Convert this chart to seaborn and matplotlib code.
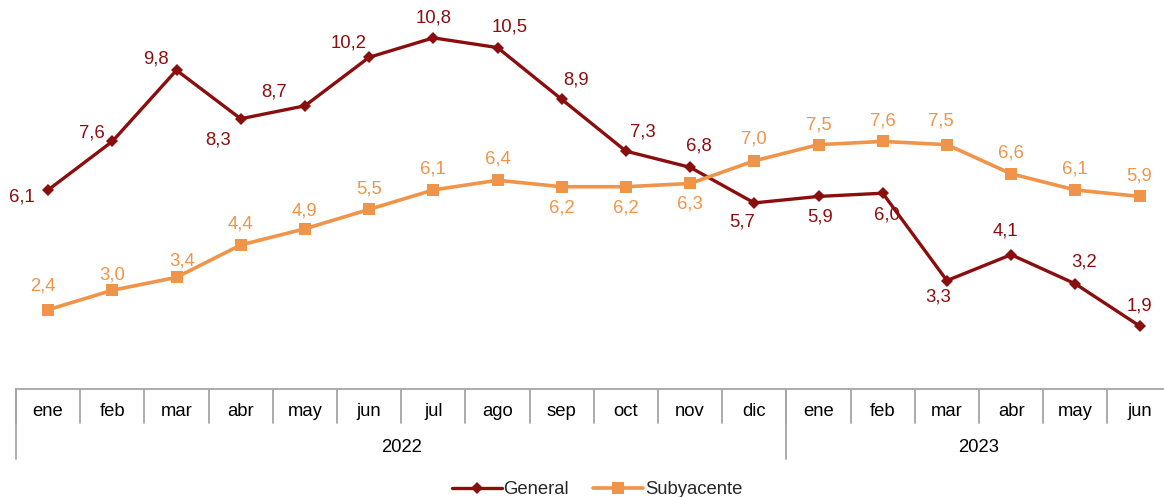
import matplotlib
matplotlib.use("Agg")
import matplotlib.pyplot as plt
import matplotlib.transforms as mtransforms
import seaborn as sns
import pandas as pd
import numpy as np

months = ["ene", "feb", "mar", "abr", "may", "jun", "jul", "ago", "sep", "oct", "nov", "dic",
          "ene", "feb", "mar", "abr", "may", "jun"]
years = ["2022", "2023"]
year_counts = [12, 6]
general = [6.1, 7.6, 9.8, 8.3, 8.7, 10.2, 10.8, 10.5, 8.9, 7.3, 6.8, 5.7, 5.9, 6.0, 3.3, 4.1, 3.2, 1.9]
subyacente = [2.4, 3.0, 3.4, 4.4, 4.9, 5.5, 6.1, 6.4, 6.2, 6.2, 6.3, 7.0, 7.5, 7.6, 7.5, 6.6, 6.1, 5.9]

# label offsets in points (dx, dy)
gen_off = [(-19, -5), (-15, 6), (-15, 8), (-16, -15), (-22, 10), (-15, 10), (0, 14), (9, 15),
           (10, 14), (12, 14), (6, 15), (-9, -14), (1, -15), (3, -16), (-6, -12), (-4, 17), (6, 16), (0, 14)]
sub_off = [(-4, 17), (0, 11), (4, 12), (0, 15), (0, 13), (0, 15), (0, 15), (0, 15),
           (0, -15), (0, -15), (0, -15), (0, 16), (0, 14), (0, 15), (-4, 17), (0, 15), (0, 15), (0, 15)]

sns.set_theme(style="white")
plt.rcParams['font.family'] = ['Liberation Sans', 'DejaVu Sans']

C_GEN = "#8B0E0E"
C_SUB = "#F0944A"
FS = 13.3

W, H = 1164, 497
fig = plt.figure(figsize=(W / 100, H / 100), dpi=100)
left_px, right_px, top_px, bot_px = 16, 16 + 18 * 64.2, 0, 389
ax = fig.add_axes([left_px / W, 1 - bot_px / H, (right_px - left_px) / W, (bot_px - top_px) / H])

x = np.arange(len(months))
df = pd.DataFrame({"x": np.concatenate([x, x]),
                   "v": general + subyacente,
                   "serie": ["General"] * len(x) + ["Subyacente"] * len(x)})

sns.lineplot(data=df[df.serie == "General"], x="x", y="v", ax=ax, color=C_GEN, lw=2.4,
             marker="D", markersize=6.5, markeredgewidth=0, label="General", legend=False)
sns.lineplot(data=df[df.serie == "Subyacente"], x="x", y="v", ax=ax, color=C_SUB, lw=2.6,
             marker="s", markersize=8.5, markeredgewidth=0, label="Subyacente", legend=False)

def fmt(v):
    return f"{v:.1f}".replace(".", ",")

for i, v in enumerate(general):
    ax.annotate(fmt(v), (i, v), xytext=gen_off[i], textcoords="offset points",
                ha="center", va="center", fontsize=FS, color=C_GEN)
for i, v in enumerate(subyacente):
    ax.annotate(fmt(v), (i, v), xytext=sub_off[i], textcoords="offset points",
                ha="center", va="center", fontsize=FS, color=C_SUB)

ax.set_xlim(-0.5, len(months) - 0.5)
ax.set_ylim(-0.05, 11.97)
ax.set_xticks([])
ax.set_yticks([])
ax.set_xlabel("")
ax.set_ylabel("")
for s in ax.spines.values():
    s.set_visible(False)

# category table below axis
trans = mtransforms.blended_transform_factory(ax.transData, ax.transAxes)
ah = bot_px - top_px
row1 = -(423 - 389) / ah
row2 = -(459 - 389) / ah
mid1 = -(412 - 389) / ah
mid2 = -(448 - 389) / ah
gc = "#A6A6A6"
ax.plot([-0.5, len(months) - 0.5], [0, 0], transform=trans, color=gc, lw=1.3, clip_on=False)
for i in range(len(months) + 1):
    xb = i - 0.5
    ax.plot([xb, xb], [0, row1], transform=trans, color=gc, lw=1.3, clip_on=False)
start = 0
for yr, n in zip(years, year_counts):
    xb = start - 0.5
    ax.plot([xb, xb], [0, row2], transform=trans, color=gc, lw=1.3, clip_on=False)
    ax.text(start + (n - 1) / 2, mid2, yr, transform=trans, ha="center", va="center",
            fontsize=FS, color="black")
    start += n
ax.plot([len(months) - 0.5] * 2, [0, row2], transform=trans, color=gc, lw=1.3, clip_on=False)
for i, m in enumerate(months):
    ax.text(i, mid1, m, transform=trans, ha="center", va="center", fontsize=FS, color="black")

handles, labels = ax.get_legend_handles_labels()
fig.legend(handles, labels, loc="center", bbox_to_anchor=(597 / W, 1 - 490 / H), ncol=2,
           frameon=False, fontsize=FS, handlelength=2.7, handletextpad=0.1, columnspacing=1.3,
           borderpad=0)

fig.savefig("out.png", dpi=100)
